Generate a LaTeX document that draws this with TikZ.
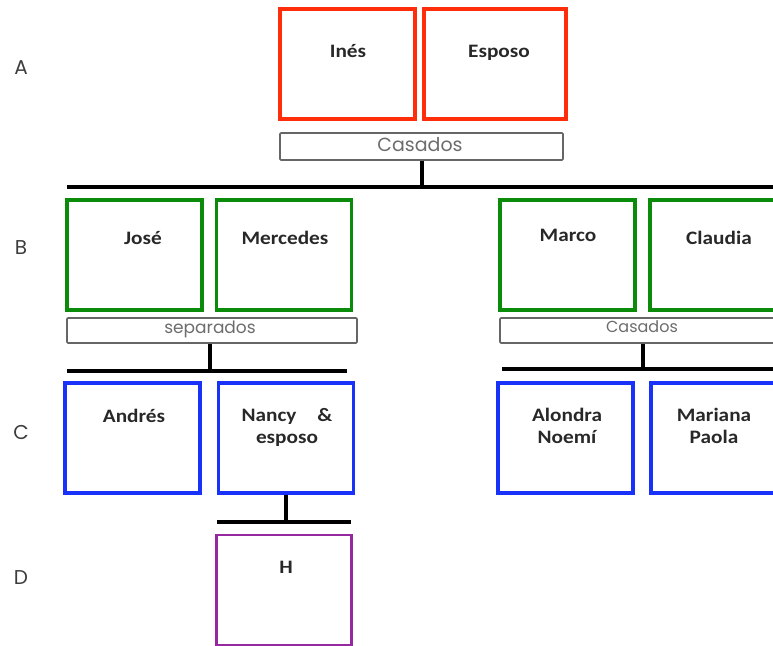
\documentclass[tikz,border=0pt]{standalone}
\usepackage{fontspec}
\setmainfont{Carlito}
\newfontfamily\namefont{Carlito}[FakeStretch=1.12]
\newfontfamily\geofont{Poppins}
\definecolor{boxred}{RGB}{255,45,10}
\definecolor{boxgreen}{RGB}{10,140,10}
\definecolor{boxblue}{RGB}{25,50,250}
\definecolor{boxpurple}{RGB}{150,40,160}
\definecolor{txt}{RGB}{40,40,40}
\tikzset{
  person/.style={draw, line width=3.2pt, rectangle, minimum width=135pt, minimum height=110pt, inner sep=0pt},
  relbox/.style={draw=gray!80!black, line width=1.6pt, rectangle, rounded corners=1pt, inner sep=0pt},
  pname/.style={font=\namefont\bfseries\fontsize{19}{22}\selectfont, text=txt, align=center, inner sep=0pt},
  reltext/.style={font=\geofont\fontsize{17}{20}\selectfont, text=gray!85!black, inner sep=0pt},
  rowlab/.style={font=\geofont\fontsize{20}{22}\selectfont, text=txt!90!white, inner sep=0pt},
  bar/.style={line width=3.2pt, black}
}
\begin{document}
\begin{tikzpicture}[x=1pt,y=-1pt]
\useasboundingbox (0,0) rectangle (773,645);
\clip (0,0) rectangle (773,645);
% row labels
\node[rowlab] (la) at (21,68) {A};
\node[rowlab] (lb) at (21,248) {B};
\node[rowlab] (lc) at (21,432) {C};
\node[rowlab] (ld) at (21,578) {D};
% generation A
\node[person, draw=boxred] (ines) at (347.5,64) {};
\node[person, draw=boxred, minimum width=142pt] (esposo) at (495,64) {};
\node[pname] (inesT) at (348,51) {Inés};
\node[pname] (esposoT) at (499,53) {Esposo};
\node[relbox, minimum width=283pt, minimum height=27pt] (casA) at (421.5,146.5) {};
\node[reltext, font=\geofont\fontsize{19}{22}\selectfont] (casAT) at (420,145) {Casados};
\coordinate (barAl) at (67,187);
\coordinate (barAr) at (790,187);
\coordinate (barAm) at (422,187);
\draw[bar] (casA.south -| barAm) -- (barAm);
\draw[bar] (barAl) -- (barAr);
% generation B left
\node[person, draw=boxgreen] (jose) at (134.5,255) {};
\node[person, draw=boxgreen] (merc) at (284,255) {};
\node[pname] (joseT) at (143,238) {José};
\node[pname] (mercT) at (285,238) {Mercedes};
\node[relbox, minimum width=290pt, minimum height=25pt] (sep) at (212,330.5) {};
\node[reltext] (sepT) at (210,329) {separados};
\coordinate (barBl) at (67,371);
\coordinate (barBlr) at (347,371);
\coordinate (barBlm) at (210,371);
\draw[bar] (sep.south -| barBlm) -- (barBlm);
\draw[bar] (barBl) -- (barBlr);
% generation B right
\node[person, draw=boxgreen] (marco) at (567.5,255) {};
\node[person, draw=boxgreen] (claudia) at (717.5,255) {};
\node[pname] (marcoT) at (568,235) {Marco};
\node[pname] (claudiaT) at (719,238) {Claudia};
\node[relbox, minimum width=290pt, minimum height=25pt] (casB) at (645,330.5) {};
\node[reltext, font=\geofont\fontsize{16}{19}\selectfont] (casBT) at (642,327) {Casados};
\coordinate (barBr1) at (502,369);
\coordinate (barBr2) at (790,369);
\coordinate (barBrm) at (643,369);
\draw[bar] (casB.south -| barBrm) -- (barBrm);
\draw[bar] (barBr1) -- (barBr2);
% generation C
\node[person, draw=boxblue] (andres) at (132.5,438) {};
\node[person, draw=boxblue] (nancy) at (286,438) {};
\node[person, draw=boxblue] (alondra) at (565.5,438) {};
\node[person, draw=boxblue] (mariana) at (718.5,438) {};
\node[pname] (andresT) at (134,416) {Andrés};
\node[pname, anchor=north] (nancyT) at (287,408) {Nancy\hspace{1.1em}\&\\esposo};
\node[pname, anchor=north] (alondraT) at (567,408) {Alondra\\Noemí};
\node[pname, anchor=north] (marianaT) at (714,408) {Mariana\\Paola};
\coordinate (barCl) at (217,522);
\coordinate (barCr) at (351,522);
\coordinate (barCm) at (286,522);
\draw[bar] (nancy.south -| barCm) -- (barCm);
\draw[bar] (barCl) -- (barCr);
% generation D
\node[person, draw=boxpurple, line width=2.6pt] (h) at (284,590) {};
\node[pname] (hT) at (286,567) {H};
\end{tikzpicture}
\end{document}
